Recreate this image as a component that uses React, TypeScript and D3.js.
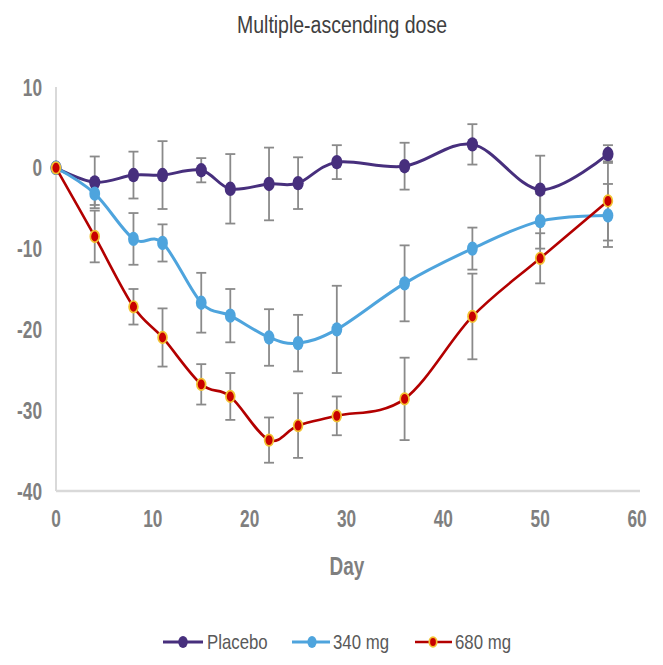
import React from "react";
import * as d3 from "d3";

const days = [0, 4, 8, 11, 15, 18, 22, 25, 29, 36, 43, 50, 57];
const placebo = [0, -1.8, -0.9, -0.9, -0.3, -2.6, -2.0, -1.9, 0.7, 0.2, 2.9, -2.7, 1.7];
const placeboErr = [0, 3.2, 2.9, 4.2, 1.5, 4.3, 4.5, 3.2, 2.1, 2.9, 2.5, 4.2, 1.1];
const mg340 = [0, -3.2, -8.8, -9.3, -16.7, -18.3, -21.0, -21.7, -20.0, -14.3, -10.0, -6.6, -5.9];
const mg340Err = [0, 1.4, 3.2, 2.3, 3.7, 3.3, 3.5, 3.5, 5.4, 4.7, 2.6, 3.4, 3.9];
const mg680 = [0, -8.5, -17.2, -21.0, -26.8, -28.3, -33.7, -31.9, -30.7, -28.6, -18.4, -11.2, -4.1];
const mg680Err = [0, 3.2, 2.2, 3.6, 2.5, 2.9, 2.8, 4.0, 2.4, 5.1, 5.3, 3.1, 4.9];

const xTicks = [0, 10, 20, 30, 40, 50, 60];
const yTicks = [10, 0, -10, -20, -30, -40];
const seriesNames = ["Placebo", "340 mg", "680 mg"];

const FONT = "'Liberation Sans', Arial, sans-serif";

const series = [
  { name: seriesNames[0], values: placebo, err: placeboErr, line: "#472f7d", fill: "#472f7d", stroke: "#472f7d", rx: 5.6, ry: 7.2, sw: 0, lw: 3 },
  { name: seriesNames[1], values: mg340, err: mg340Err, line: "#4ea4dd", fill: "#4ea4dd", stroke: "#4ea4dd", rx: 5.4, ry: 7.2, sw: 0, lw: 3 },
  { name: seriesNames[2], values: mg680, err: mg680Err, line: "#b30000", fill: "#c80000", stroke: "#f2c232", rx: 4.4, ry: 5.8, sw: 1.7, lw: 2.6 },
];

function SText({ x, y, sx = 1, anchor = "middle", size, weight = "normal", fill, children }: any) {
  return (
    <text
      transform={`translate(${x},${y}) scale(${sx},1)`}
      textAnchor={anchor}
      fontFamily={FONT}
      fontSize={size}
      fontWeight={weight}
      fill={fill}
    >
      {children}
    </text>
  );
}

export default function App() {
  const W = 663;
  const H = 665;
  const x = d3.scaleLinear().domain([0, 60]).range([56, 637]);
  const y = d3.scaleLinear().domain([-40, 10]).range([491, 87]);
  const line = d3
    .line<number>()
    .x((_, i) => x(days[i]))
    .y((v) => y(v))
    .curve(d3.curveCardinal.tension(0));

  const legendItems = [
    { s: series[0], l0: 163, l1: 203, m: 183, t: 207 },
    { s: series[1], l0: 292, l1: 330, m: 312, t: 333 },
    { s: series[2], l0: 415, l1: 452, m: 433, t: 455 },
  ];

  return (
    <svg width={W} height={H} style={{ position: "absolute", left: 0, top: 0, background: "#fff" }}>
      <rect width={W} height={H} fill="#fff" />
      <text x={342} y={33} textAnchor="middle" fontFamily={FONT} fontSize={23} fill="#404040" textLength={210} lengthAdjust="spacingAndGlyphs">
        Multiple-ascending dose
      </text>

      {/* axes */}
      <line x1={x(0)} x2={x(0)} y1={y(10)} y2={y(-40)} stroke="#d9d9d9" strokeWidth={2} />
      <line x1={x(0)} x2={640} y1={y(-40)} y2={y(-40)} stroke="#d9d9d9" strokeWidth={2.5} />

      {yTicks.map((t) => (
        <SText key={"y" + t} x={42} y={y(t) + 8.5} sx={0.72} anchor="end" size={24} weight="bold" fill="#7f7f7f">
          {t}
        </SText>
      ))}
      {xTicks.map((t) => (
        <SText key={"x" + t} x={x(t)} y={527} sx={0.72} size={24} weight="bold" fill="#7f7f7f">
          {t}
        </SText>
      ))}
      <SText x={347} y={575} sx={0.73} size={26} weight="bold" fill="#7f7f7f">
        Day
      </SText>

      {/* error bars */}
      {series.map((s) =>
        s.values.map((v, i) =>
          s.err[i] > 0 ? (
            <g key={s.name + "e" + i} stroke="#8a8a8a" strokeWidth={1.8}>
              <line x1={x(days[i])} x2={x(days[i])} y1={y(v + s.err[i])} y2={y(v - s.err[i])} />
              <line x1={x(days[i]) - 5} x2={x(days[i]) + 5} y1={y(v + s.err[i])} y2={y(v + s.err[i])} />
              <line x1={x(days[i]) - 5} x2={x(days[i]) + 5} y1={y(v - s.err[i])} y2={y(v - s.err[i])} />
            </g>
          ) : null
        )
      )}

      {/* series */}
      {series.map((s) => (
        <g key={s.name}>
          <path d={line(s.values) || ""} fill="none" stroke={s.line} strokeWidth={s.lw} />
          {s.values.map((v, i) => (
            <ellipse key={i} cx={x(days[i])} cy={y(v)} rx={s.rx} ry={s.ry} fill={s.fill} stroke={s.stroke} strokeWidth={s.sw} />
          ))}
        </g>
      ))}

      {/* legend */}
      {legendItems.map((it) => (
        <g key={it.s.name}>
          <line x1={it.l0} x2={it.l1} y1={642} y2={642} stroke={it.s.line} strokeWidth={it.s.lw} />
          <ellipse cx={it.m} cy={642} rx={it.s.rx * 0.85} ry={it.s.ry * 0.85} fill={it.s.fill} stroke={it.s.stroke} strokeWidth={it.s.sw} />
          <SText x={it.t} y={649} sx={0.84} anchor="start" size={20} fill="#595959">
            {it.s.name}
          </SText>
        </g>
      ))}
    </svg>
  );
}
